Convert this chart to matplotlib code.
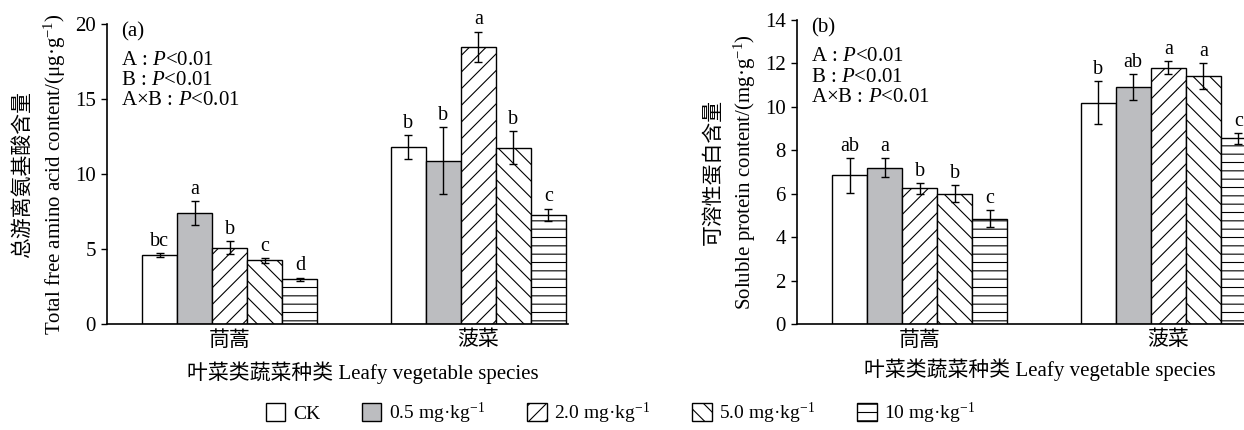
import matplotlib
matplotlib.use("Agg")
import matplotlib.pyplot as plt
import numpy as np
from matplotlib.patches import Patch

plt.rcParams['font.family'] = ['Liberation Serif', 'Noto Sans CJK SC', 'DejaVu Sans']
plt.rcParams['mathtext.fontset'] = 'custom'
plt.rcParams['mathtext.rm'] = 'Liberation Serif'
plt.rcParams['mathtext.it'] = 'Liberation Serif:italic'
plt.rcParams['hatch.linewidth'] = 0.8
plt.rcParams['axes.unicode_minus'] = False

# 数据
species = ['茼蒿', '菠菜']
treatments = ['CK', '0.5 mg·kg$^{-1}$', '2.0 mg·kg$^{-1}$', '5.0 mg·kg$^{-1}$', '10 mg·kg$^{-1}$']

amino_mean = [[4.6, 11.8], [7.4, 10.9], [5.1, 18.5], [4.25, 11.75], [3.0, 7.3]]
amino_err = [[0.12, 0.8], [0.8, 2.2], [0.45, 1.0], [0.15, 1.1], [0.1, 0.4]]
amino_sig = [['bc', 'b'], ['a', 'b'], ['b', 'a'], ['c', 'b'], ['d', 'c']]

protein_mean = [[6.85, 10.2], [7.2, 10.9], [6.25, 11.8], [6.0, 11.4], [4.85, 8.55]]
protein_err = [[0.8, 1.0], [0.45, 0.6], [0.25, 0.3], [0.4, 0.6], [0.4, 0.25]]
protein_sig = [['ab', 'b'], ['a', 'ab'], ['b', 'a'], ['b', 'a'], ['c', 'c']]

colors = ['white', '#bcbdc0', 'white', 'white', 'white']
hatches = ['', '', '//', '\\\\', '--']

FS = 15

fig = plt.figure(figsize=(12.44, 4.30), dpi=100)
ax1 = fig.add_axes([107/1244, 1-324/430, 461/1244, 300/430])
ax2 = fig.add_axes([797/1244, 1-324/430, 461/1244, 304/430])

w = 0.141
x = np.arange(len(species))

def draw(ax, means, errs, sigs, ymax, step, ylabel, tag, off):
    for i in range(5):
        pos = x + (i - 2) * w
        ax.bar(pos, means[i], w, color=colors[i], edgecolor='black',
               hatch=hatches[i], linewidth=1.0, zorder=2)
        ax.errorbar(pos, means[i], yerr=errs[i], fmt='none', ecolor='black',
                    elinewidth=1.0, capsize=3, capthick=1.0, zorder=3)
        for j in range(len(species)):
            ax.text(pos[j], means[i][j] + errs[i][j] + off, sigs[i][j],
                    ha='center', va='bottom', fontsize=FS - 0.5)
    ax.set_xlim(-0.494, 1.361)
    ax.set_ylim(0, ymax)
    ax.set_yticks(np.arange(0, ymax + 0.01, step))
    ax.set_xticks(x)
    ax.set_xticklabels(species, fontsize=FS)
    ax.tick_params(axis='x', length=0, pad=5)
    ax.tick_params(axis='y', direction='out', length=4, labelsize=FS, width=1, pad=4)
    for s in ['top', 'right']:
        ax.spines[s].set_visible(False)
    for s in ['left', 'bottom']:
        ax.spines[s].set_linewidth(1.2)
    ax.set_ylabel(ylabel, fontsize=FS, labelpad=5, linespacing=1.45)
    ax.text(0.03, 1.005, tag, transform=ax.transAxes, fontsize=FS, va='top')
    stats = ['A : $\\mathit{P}$<0.01', 'B : $\\mathit{P}$<0.01', 'A×B : $\\mathit{P}$<0.01']
    for k, t in enumerate(stats):
        ax.text(0.03, 0.91 - k * 0.067, t, transform=ax.transAxes, fontsize=FS, va='top')

draw(ax1, amino_mean, amino_err, amino_sig, 20, 5,
     '总游离氨基酸含量\nTotal free amino acid content/(μg·g$^{-1}$)', '(a)', 0.15)
draw(ax2, protein_mean, protein_err, protein_sig, 14, 2,
     '可溶性蛋白含量\nSoluble protein content/(mg·g$^{-1}$)', '(b)', 0.1)

fig.text(363/1244, 1-373/430, '叶菜类蔬菜种类 Leafy vegetable species',
         ha='center', va='center', fontsize=FS)
fig.text(1040/1244, 1-370/430, '叶菜类蔬菜种类 Leafy vegetable species',
         ha='center', va='center', fontsize=FS)

handles = [Patch(facecolor=colors[i], edgecolor='black', hatch=hatches[i], linewidth=1.0)
           for i in range(5)]
fig.legend(handles, treatments, loc='center', bbox_to_anchor=(0.499, 1-413/430),
           ncol=5, frameon=False, fontsize=14, handlelength=1.0, handleheight=1.0,
           handletextpad=0.4, columnspacing=2.15)

fig.savefig('out.png', dpi=100)
